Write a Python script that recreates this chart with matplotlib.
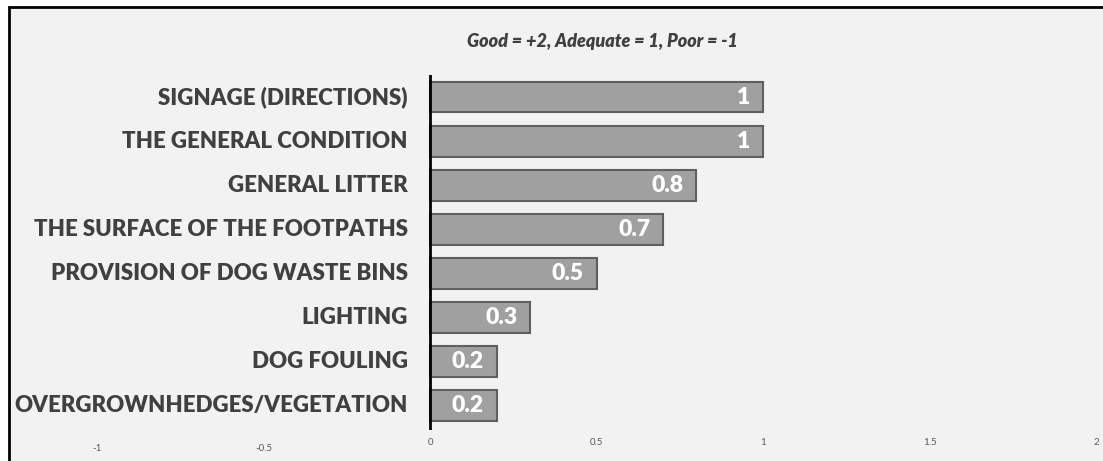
import matplotlib.pyplot as plt
from matplotlib.patches import Rectangle
from matplotlib.transforms import ScaledTranslation

# survey items, top to bottom, with their mean scores
items = ['SIGNAGE (DIRECTIONS)', 'THE GENERAL CONDITION', 'GENERAL LITTER',
         'THE SURFACE OF THE FOOTPATHS', 'PROVISION OF DOG WASTE BINS',
         'LIGHTING', 'DOG FOULING', 'OVERGROWNHEDGES/VEGETATION']
scores = [1, 1, 0.8, 0.7, 0.5, 0.3, 0.2, 0.2]
score_labels = ['1', '1', '0.8', '0.7', '0.5', '0.3', '0.2', '0.2']
x_ticks = [-1, -0.5, 0, 0.5, 1, 1.5, 2]
x_tick_labels = ['-1', '-0.5', '0', '0.5', '1', '1.5', '2']

plt.rcParams['font.family'] = ['Lato', 'DejaVu Sans']

fig = plt.figure(figsize=(11.03, 4.61), dpi=100)
fig.patch.set_facecolor('white')

# chart area panel with black frame
fig.patches.append(Rectangle((9 / 1103, -0.1), 1.2, 1 - 7 / 461 + 0.1,
                             transform=fig.transFigure, facecolor='#f2f2f2',
                             edgecolor='black', linewidth=2, zorder=-1))

ax = fig.add_axes([97 / 1103, 1 - 430 / 461, 999 / 1103, 355 / 461])
ax.set_facecolor('none')
ax.set_zorder(1)

ypos = list(range(len(items)))
bars = ax.barh(ypos, scores, height=0.7, color='#a0a0a0', edgecolor='#5f5f5f',
               linewidth=1.5, zorder=2)

for y, v, lab in zip(ypos, scores, score_labels):
    ax.annotate(lab, xy=(v, y), xytext=(-9, 0), textcoords='offset points',
                ha='right', va='center', color='white',
                fontsize=16.5, fontweight='heavy', zorder=3)

ax.set_xlim(-1, 2)
ax.set_ylim(len(items) - 0.45, -0.5)
ax.axvline(0, color='black', linewidth=2, zorder=4)

ax.set_yticks(ypos)
ax.set_yticklabels([])
for y, name in zip(ypos, items):
    ax.annotate(name, xy=(0, y), xytext=(-16, 0), textcoords='offset points',
                ha='right', va='center', fontsize=16, fontweight='heavy',
                color='#404040')

ax.set_xticks(x_ticks)
ax.set_xticklabels(x_tick_labels, fontsize=7, color='#595959')
ax.tick_params(axis='both', length=0)
ax.tick_params(axis='x', pad=6)
# negative tick labels sit a little lower
for lbl in ax.get_xticklabels()[:2]:
    lbl.set_transform(lbl.get_transform() + ScaledTranslation(0, -4 / 72, fig.dpi_scale_trans))

for s in ax.spines.values():
    s.set_visible(False)

fig.text(602 / 1103, 1 - 42 / 461, 'Good = +2, Adequate = 1, Poor = -1',
         ha='center', va='center', fontsize=13, fontweight='heavy',
         fontstyle='italic', color='#404040')

fig.savefig('out.png', dpi=100)
